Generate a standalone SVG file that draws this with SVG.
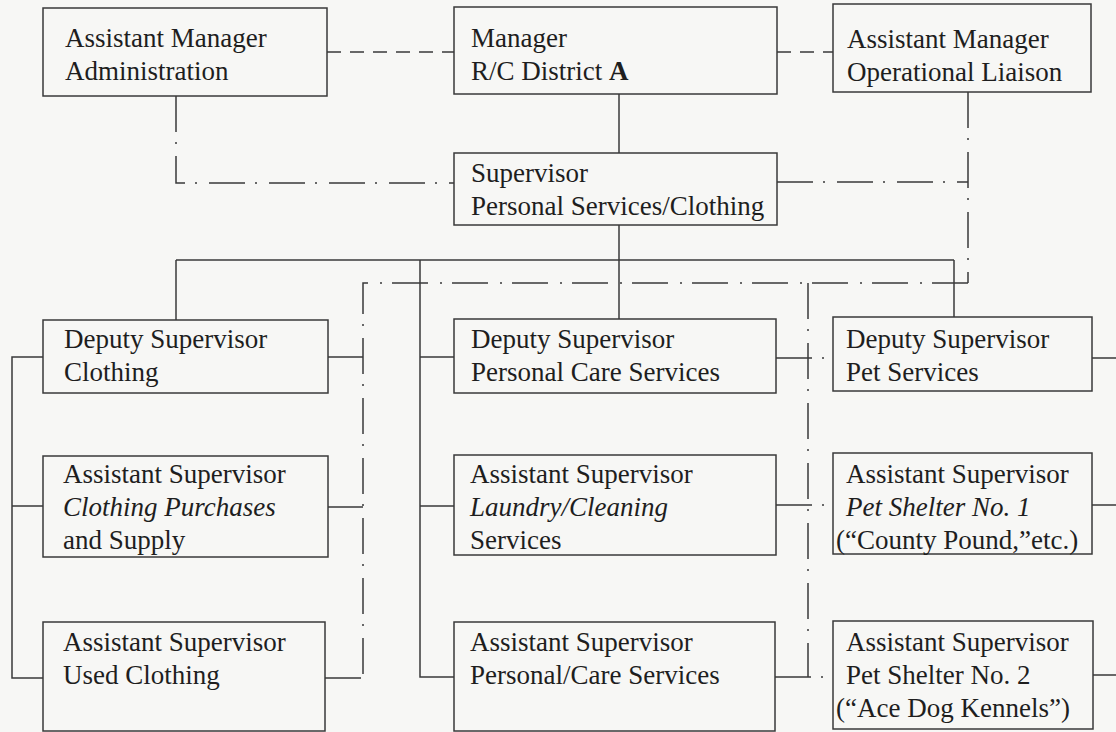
<svg xmlns="http://www.w3.org/2000/svg" width="1116" height="732" viewBox="0 0 1116 732">
<style>
.bg{fill:#f7f7f5}
.box{fill:none;stroke:#3a3a3a;stroke-width:1.5}
.t{font-family:"Liberation Serif","Times New Roman",serif;font-size:27px;fill:#1e1e1e}
.i{font-style:italic}
.b{font-weight:bold}
.solid{fill:none;stroke:#3a3a3a;stroke-width:1.5}
.dash{fill:none;stroke:#3a3a3a;stroke-width:1.5;stroke-dasharray:14 9}
.dd{fill:none;stroke:#3a3a3a;stroke-width:1.5;stroke-dasharray:36 10 2 12}
</style>
<rect class="bg" x="0" y="0" width="1116" height="732"/>
<g id="connectors">
<path class="dash" d="M327 52H454"/>
<path class="dash" d="M777 52H833"/>
<path class="solid" d="M619 94V153"/>
<path class="dd" d="M176 96V183H454"/>
<path class="dd" d="M968 92V283"/>
<path class="dd" d="M777 182H968"/>
<path class="solid" d="M619 225V260"/>
<path class="solid" d="M176 260H954"/>
<path class="solid" d="M176 260V320"/>
<path class="solid" d="M619 260V319"/>
<path class="solid" d="M954 260V317"/>
<path class="solid" d="M420 260V677H454M420 357H454M420 506H454"/>
<path class="solid" d="M43 357H12V678H43M12 506H43"/>
<path class="dd" d="M968 283H363V678"/>
<path class="dd" d="M328 357H363M328 507H363M325 678H363"/>
<path class="dd" d="M808 283V677"/>
<path class="dd" d="M776 358H833M776 505H833M775 677H833"/>
<path class="solid" d="M1092 358H1116M1092 505H1116M1093 675H1116"/>
</g>
<g id="n_am_admin">
<rect class="box" x="43" y="8" width="284" height="88"/>
<text class="t" x="65" y="47">Assistant Manager</text>
<text class="t" x="65" y="80">Administration</text>
</g>
<g id="n_manager">
<rect class="box" x="454" y="7" width="323" height="87"/>
<text class="t" x="471" y="47">Manager</text>
<text class="t" x="471" y="80">R/C District <tspan class="b">A</tspan></text>
</g>
<g id="n_am_op">
<rect class="box" x="833" y="4" width="258" height="88"/>
<text class="t" x="847" y="48">Assistant Manager</text>
<text class="t" x="847" y="81">Operational Liaison</text>
</g>
<g id="n_supervisor">
<rect class="box" x="454" y="153" width="323" height="72"/>
<text class="t" x="471" y="182">Supervisor</text>
<text class="t" x="471" y="215">Personal Services/Clothing</text>
</g>
<g id="n_dep_clothing">
<rect class="box" x="43" y="320" width="285" height="73"/>
<text class="t" x="64" y="348">Deputy Supervisor</text>
<text class="t" x="64" y="381">Clothing</text>
</g>
<g id="n_dep_personal">
<rect class="box" x="454" y="319" width="322" height="74"/>
<text class="t" x="471" y="348">Deputy Supervisor</text>
<text class="t" x="471" y="381">Personal Care Services</text>
</g>
<g id="n_dep_pet">
<rect class="box" x="833" y="317" width="259" height="74"/>
<text class="t" x="846" y="348">Deputy Supervisor</text>
<text class="t" x="846" y="381">Pet Services</text>
</g>
<g id="n_as_purchases">
<rect class="box" x="43" y="456" width="285" height="101"/>
<text class="t" x="63" y="483">Assistant Supervisor</text>
<text class="t i" x="63" y="516">Clothing Purchases</text>
<text class="t" x="63" y="549">and Supply</text>
</g>
<g id="n_as_laundry">
<rect class="box" x="454" y="455" width="322" height="100"/>
<text class="t" x="470" y="483">Assistant Supervisor</text>
<text class="t i" x="470" y="516">Laundry/Cleaning</text>
<text class="t" x="470" y="549">Services</text>
</g>
<g id="n_as_pet1">
<rect class="box" x="833" y="453" width="259" height="101"/>
<text class="t" x="846" y="483">Assistant Supervisor</text>
<text class="t i" x="846" y="516">Pet Shelter No. 1</text>
<text class="t" x="836" y="549">(“County Pound,”etc.)</text>
</g>
<g id="n_as_used">
<rect class="box" x="43" y="622" width="282" height="109"/>
<text class="t" x="63" y="651">Assistant Supervisor</text>
<text class="t" x="63" y="684">Used Clothing</text>
</g>
<g id="n_as_personalcare">
<rect class="box" x="454" y="622" width="321" height="109"/>
<text class="t" x="470" y="651">Assistant Supervisor</text>
<text class="t" x="470" y="684">Personal/Care Services</text>
</g>
<g id="n_as_pet2">
<rect class="box" x="833" y="621" width="260" height="108"/>
<text class="t" x="846" y="651">Assistant Supervisor</text>
<text class="t" x="846" y="684">Pet Shelter No. 2</text>
<text class="t" x="836" y="717">(“Ace Dog Kennels”)</text>
</g>
</svg>
